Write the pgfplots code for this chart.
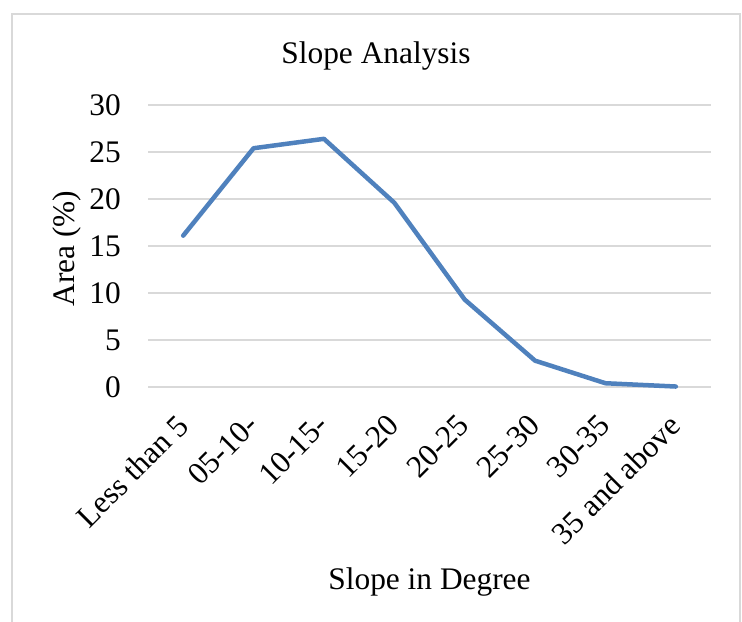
\documentclass[border=0pt]{standalone}
\usepackage{fontspec}
\setmainfont{Liberation Serif}
\usepackage{pgfplots}
\usepackage{pgfplotstable}
\pgfplotsset{compat=1.18}

\definecolor{lineblue}{HTML}{4F81BD}
\definecolor{gridgray}{HTML}{D9D9D9}

% Share of area per slope class (%)
\pgfplotstableread{
idx area
0 16.1
1 25.4
2 26.4
3 19.6
4 9.3
5 2.8
6 0.4
7 0.05
}\slopedata

\newcommand{\chartfont}{\fontsize{31.5}{37}\selectfont}

\begin{document}
\begin{tikzpicture}[x=1bp,y=1bp]
\path[use as bounding box] (0,0) rectangle (742,622);
% chart area frame
\draw[gridgray, line width=2bp] (12,-5) -- (12,608) -- (740,608) -- (740,-5);
\begin{axis}[
  at={(148bp,235bp)}, anchor=south west,
  scale only axis, width=563bp, height=282bp,
  xmin=-0.5, xmax=7.5, ymin=0, ymax=30,
  xtick={0,...,7}, ytick={0,5,...,30},
  xticklabels={Less than 5, 05-10-, 10-15-, 15-20, 20-25, 25-30, 30-35, 35 and above},
  axis line style={draw=none}, tick style={draw=none},
  ymajorgrids, grid style={gridgray, line width=1.2bp},
  /pgf/number format/assume math mode=true,
  ticklabel style={font=\chartfont, inner sep=0pt},
  yticklabel style={anchor=east, xshift=-27bp},
  % shifts act in the rotated frame of the label
  xticklabel style={rotate=45, anchor=north east, xshift=-24bp, yshift=-12bp},
  title={Slope Analysis},
  title style={font=\chartfont, at={(0.405,1.151)}, anchor=center, yshift=0pt},
  ylabel={Area (\%)},
  ylabel style={font=\chartfont, at={(-0.144,0.491)}, anchor=center},
  xlabel={Slope in Degree},
  xlabel style={font=\chartfont, at={(0.5,-0.69)}, anchor=center},
  clip=false,
]
\addplot[lineblue, line width=4.5bp, line cap=round, line join=round, mark=none]
  table[x=idx, y=area]{\slopedata};
\end{axis}
\end{tikzpicture}
\end{document}
